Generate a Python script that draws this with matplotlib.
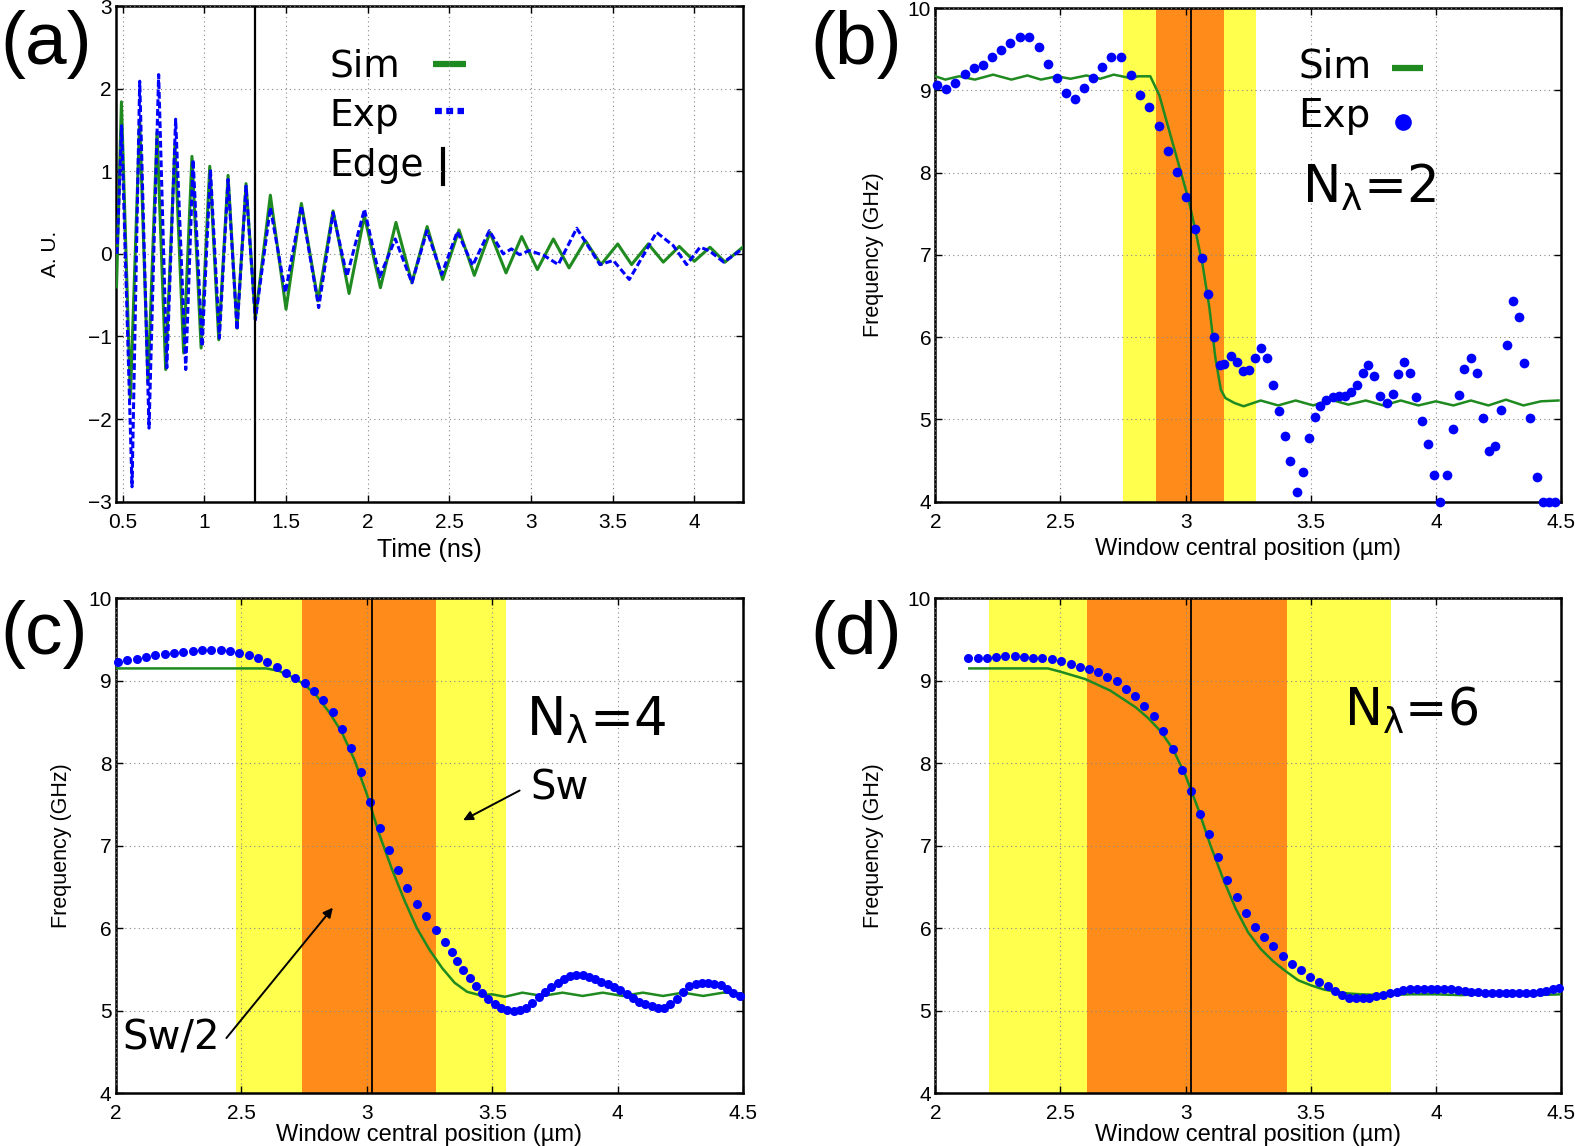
import matplotlib
matplotlib.use("Agg")
import matplotlib.pyplot as plt
from matplotlib.ticker import FuncFormatter

plt.rcParams["font.family"] = ["Liberation Sans", "DejaVu Sans"]
plt.rcParams["mathtext.fontset"] = "dejavusans"

# ---------------- data ----------------
# (a) time traces: extrema of the simulated / measured signals
sim_a_t = [0.462, 0.492, 0.547, 0.604, 0.655, 0.710, 0.763, 0.820, 0.873, 0.924,
           0.980, 1.033, 1.088, 1.145, 1.200, 1.255, 1.312, 1.404, 1.500, 1.594,
           1.696, 1.788, 1.886, 1.980, 2.078, 2.173, 2.271, 2.364, 2.459, 2.559,
           2.653, 2.749, 2.847, 2.943, 3.039, 3.137, 3.233, 3.333, 3.429, 3.531,
           3.616, 3.718, 3.810, 3.908, 4.000, 4.096, 4.188, 4.296]
sim_a_v = [-0.40, 1.84, -1.75, 1.62, -1.56, 1.47, -1.40, 1.33, -1.20, 1.18,
           -1.14, 1.06, -1.04, 0.95, -0.90, 0.85, -0.78, 0.71, -0.67, 0.61,
           -0.57, 0.52, -0.48, 0.46, -0.41, 0.38, -0.35, 0.33, -0.31, 0.29,
           -0.26, 0.26, -0.23, 0.21, -0.19, 0.18, -0.17, 0.16, -0.13, 0.12,
           -0.13, 0.12, -0.10, 0.09, -0.09, 0.08, -0.10, 0.08]
exp_a_t = [0.465, 0.493, 0.557, 0.604, 0.661, 0.720, 0.770, 0.824, 0.886, 0.931,
           0.986, 1.037, 1.092, 1.145, 1.200, 1.255, 1.312, 1.404, 1.496, 1.594,
           1.700, 1.788, 1.873, 1.980, 2.073, 2.169, 2.271, 2.363, 2.453, 2.549,
           2.643, 2.745, 2.830, 2.880, 2.930, 2.990, 3.080, 3.167, 3.280, 3.422,
           3.504, 3.602, 3.769, 3.871, 3.953, 4.035, 4.090, 4.180, 4.296]
exp_a_v = [0.00, 1.55, -2.82, 2.09, -2.11, 2.17, -1.38, 1.63, -1.40, 1.14,
           -1.12, 1.02, -1.02, 0.90, -0.92, 0.82, -0.80, 0.56, -0.47, 0.58,
           -0.65, 0.50, -0.27, 0.54, -0.28, 0.18, -0.35, 0.28, -0.25, 0.27,
           -0.14, 0.28, 0.00, 0.06, -0.01, 0.04, -0.02, -0.13, 0.31, -0.13,
           -0.08, -0.31, 0.26, 0.10, -0.13, 0.08, 0.04, -0.10, 0.06]
edge_a = 1.312

# (b) N_lambda = 2
sim_b_x = [2.000, 2.040, 2.095, 2.158, 2.231, 2.304, 2.368, 2.422, 2.486, 2.540,
           2.604, 2.659, 2.713, 2.777, 2.813, 2.859, 2.895, 2.941, 2.977, 3.013,
           3.041, 3.068, 3.095, 3.119, 3.141, 3.159, 3.195, 3.232, 3.300, 3.370,
           3.440, 3.510, 3.580, 3.650, 3.720, 3.790, 3.860, 3.930, 4.000, 4.070,
           4.140, 4.210, 4.280, 4.350, 4.420, 4.490]
sim_b_y = [9.17, 9.13, 9.17, 9.13, 9.19, 9.13, 9.18, 9.13, 9.17, 9.14,
           9.18, 9.14, 9.19, 9.15, 9.17, 9.17, 8.94, 8.44, 8.05, 7.66,
           7.27, 6.88, 6.36, 5.75, 5.36, 5.26, 5.20, 5.16, 5.23, 5.17,
           5.23, 5.17, 5.24, 5.18, 5.23, 5.17, 5.23, 5.17, 5.22, 5.17,
           5.23, 5.17, 5.24, 5.17, 5.22, 5.23]
exp_b_x = [2.007, 2.044, 2.080, 2.118, 2.155, 2.191, 2.227, 2.264, 2.300, 2.337,
           2.373, 2.413, 2.449, 2.486, 2.522, 2.559, 2.595, 2.631, 2.668, 2.704,
           2.741, 2.781, 2.817, 2.853, 2.893, 2.930, 2.966, 3.003, 3.039, 3.064,
           3.088, 3.112, 3.137, 3.155, 3.181, 3.206, 3.228, 3.254, 3.279, 3.303,
           3.326, 3.348, 3.372, 3.396, 3.419, 3.445, 3.468, 3.492, 3.516, 3.539,
           3.563, 3.588, 3.612, 3.636, 3.659, 3.683, 3.707, 3.730, 3.754, 3.778,
           3.803, 3.827, 3.850, 3.874, 3.898, 3.921, 3.945, 3.969, 3.994, 4.018,
           4.043, 4.067, 4.091, 4.114, 4.140, 4.163, 4.187, 4.211, 4.236, 4.260,
           4.283, 4.307, 4.331, 4.354, 4.378, 4.404, 4.427, 4.451, 4.475]
exp_b_y = [9.06, 9.02, 9.09, 9.20, 9.27, 9.31, 9.41, 9.49, 9.58, 9.65,
           9.65, 9.52, 9.32, 9.15, 8.97, 8.90, 9.03, 9.15, 9.28, 9.41,
           9.40, 9.18, 8.94, 8.80, 8.57, 8.26, 8.01, 7.70, 7.31, 6.96,
           6.53, 6.00, 5.66, 5.67, 5.77, 5.70, 5.59, 5.60, 5.75, 5.87,
           5.75, 5.42, 5.10, 4.80, 4.49, 4.12, 4.36, 4.78, 5.03, 5.16,
           5.24, 5.27, 5.29, 5.29, 5.33, 5.42, 5.57, 5.66, 5.53, 5.28,
           5.20, 5.31, 5.55, 5.70, 5.57, 5.27, 4.98, 4.70, 4.33, 4.00,
           4.32, 4.88, 5.30, 5.61, 5.75, 5.57, 5.02, 4.62, 4.68, 5.12,
           5.90, 6.44, 6.25, 5.68, 5.02, 4.30, 4.00, 4.00, 4.00]
sw_b = (2.750, 3.281)
sw2_b = (2.882, 3.154)

# (c) N_lambda = 4
sim_c_x = [2.00, 2.60, 2.65, 2.70, 2.75, 2.80, 2.85, 2.90, 2.95, 3.00,
           3.05, 3.10, 3.15, 3.20, 3.25, 3.30, 3.35, 3.40, 3.45, 3.50,
           3.55, 3.62, 3.70, 3.78, 3.86, 3.94, 4.02, 4.10, 4.18, 4.26,
           4.34, 4.42, 4.50]
sim_c_y = [9.15, 9.15, 9.12, 9.05, 8.96, 8.82, 8.62, 8.38, 8.05, 7.63,
           7.14, 6.72, 6.34, 6.00, 5.74, 5.52, 5.34, 5.23, 5.19, 5.20,
           5.17, 5.22, 5.18, 5.22, 5.18, 5.22, 5.18, 5.22, 5.18, 5.22,
           5.18, 5.22, 5.21]
exp_c_x = [2.009, 2.046, 2.083, 2.121, 2.158, 2.195, 2.232, 2.269, 2.307, 2.344,
           2.381, 2.418, 2.455, 2.493, 2.530, 2.567, 2.604, 2.641, 2.679, 2.716,
           2.753, 2.790, 2.827, 2.865, 2.902, 2.939, 2.976, 3.013, 3.051, 3.088,
           3.125, 3.162, 3.199, 3.237, 3.274, 3.311, 3.338, 3.360, 3.385, 3.410,
           3.435, 3.460, 3.485, 3.510, 3.535, 3.560, 3.585, 3.610, 3.635, 3.660,
           3.685, 3.710, 3.735, 3.760, 3.785, 3.810, 3.835, 3.860, 3.885, 3.910,
           3.935, 3.960, 3.985, 4.010, 4.035, 4.060, 4.085, 4.110, 4.135, 4.160,
           4.185, 4.210, 4.235, 4.260, 4.285, 4.310, 4.335, 4.360, 4.385, 4.410,
           4.435, 4.460, 4.485]
exp_c_y = [9.23, 9.25, 9.27, 9.29, 9.31, 9.32, 9.34, 9.35, 9.36, 9.37,
           9.37, 9.37, 9.36, 9.34, 9.31, 9.28, 9.23, 9.17, 9.10, 9.04,
           8.97, 8.88, 8.77, 8.62, 8.42, 8.18, 7.90, 7.53, 7.21, 6.95,
           6.71, 6.49, 6.30, 6.15, 5.98, 5.84, 5.71, 5.60, 5.49, 5.40,
           5.30, 5.22, 5.14, 5.08, 5.04, 5.01, 5.00, 5.01, 5.04, 5.10,
           5.17, 5.23, 5.29, 5.34, 5.38, 5.42, 5.44, 5.43, 5.41, 5.38,
           5.35, 5.32, 5.29, 5.25, 5.20, 5.15, 5.11, 5.08, 5.06, 5.04,
           5.04, 5.08, 5.14, 5.23, 5.30, 5.33, 5.34, 5.34, 5.33, 5.31,
           5.27, 5.22, 5.18]
sw_c = (2.481, 3.554)
sw2_c = (2.744, 3.275)

# (d) N_lambda = 6
sim_d_x = [2.136, 2.45, 2.50, 2.60, 2.70, 2.80, 2.85, 2.90, 2.95, 3.00,
           3.05, 3.10, 3.15, 3.20, 3.25, 3.30, 3.35, 3.40, 3.45, 3.50,
           3.55, 3.60, 3.65, 3.70, 3.80, 3.90, 4.00, 4.10, 4.20, 4.30,
           4.40, 4.50]
sim_d_y = [9.15, 9.15, 9.11, 9.02, 8.88, 8.68, 8.55, 8.39, 8.17, 7.85,
           7.45, 7.00, 6.60, 6.24, 5.95, 5.75, 5.60, 5.48, 5.37, 5.31,
           5.26, 5.23, 5.21, 5.20, 5.19, 5.20, 5.20, 5.19, 5.20, 5.20,
           5.19, 5.20]
exp_d_x = [2.131, 2.169, 2.205, 2.243, 2.280, 2.318, 2.354, 2.392, 2.428, 2.467,
           2.503, 2.541, 2.577, 2.614, 2.652, 2.688, 2.726, 2.762, 2.799, 2.835,
           2.873, 2.910, 2.948, 2.984, 3.020, 3.057, 3.093, 3.131, 3.167, 3.204,
           3.242, 3.278, 3.314, 3.351, 3.389, 3.425, 3.462, 3.498, 3.534, 3.569,
           3.598, 3.625, 3.652, 3.679, 3.707, 3.734, 3.761, 3.788, 3.816, 3.843,
           3.870, 3.897, 3.924, 3.952, 3.979, 4.006, 4.033, 4.060, 4.088, 4.115,
           4.142, 4.170, 4.197, 4.224, 4.251, 4.279, 4.306, 4.333, 4.360, 4.387,
           4.415, 4.442, 4.469, 4.491]
exp_d_y = [9.28, 9.28, 9.28, 9.29, 9.30, 9.30, 9.29, 9.28, 9.28, 9.26,
           9.24, 9.20, 9.17, 9.14, 9.11, 9.05, 9.00, 8.90, 8.82, 8.69,
           8.57, 8.39, 8.17, 7.92, 7.66, 7.39, 7.14, 6.86, 6.59, 6.38,
           6.19, 6.01, 5.89, 5.78, 5.66, 5.57, 5.49, 5.41, 5.35, 5.30,
           5.24, 5.19, 5.16, 5.15, 5.15, 5.16, 5.18, 5.19, 5.22, 5.23,
           5.25, 5.26, 5.27, 5.27, 5.27, 5.27, 5.27, 5.26, 5.25, 5.24,
           5.23, 5.23, 5.22, 5.22, 5.22, 5.22, 5.22, 5.22, 5.22, 5.22,
           5.23, 5.24, 5.26, 5.28]
sw_d = (2.214, 3.819)
sw2_d = (2.606, 3.405)

edge_x = 3.02

# ---------------- styling ----------------
GREEN = "#1f8a1f"
BLUE = "#0000ff"
YELLOW = "#ffff4d"
ORANGE = "#ff8c1a"
BIG = "DejaVu Sans"

W, H = 1575, 1146
fig = plt.figure(figsize=(W / 100, H / 100), dpi=100)


def box(l, r, t, b):
    return fig.add_axes([l / W, 1 - b / H, (r - l) / W, (b - t) / H])


def fmt(v, _):
    return f"{v:g}".replace("-", "\u2212")


def style(ax, xlim, ylim, xticks, yticks):
    ax.set_xlim(*xlim)
    ax.set_ylim(*ylim)
    ax.set_xticks(xticks)
    ax.set_yticks(yticks)
    ax.xaxis.set_major_formatter(FuncFormatter(fmt))
    ax.yaxis.set_major_formatter(FuncFormatter(fmt))
    ax.tick_params(direction="in", length=5, width=1, top=True, right=True,
                   labelsize=15)
    ax.tick_params(axis="x", pad=8)
    ax.tick_params(axis="y", pad=3)
    ax.grid(True, linestyle=(0, (1, 3)), color="#888888", linewidth=0.8)
    ax.set_axisbelow(False)
    for s in ax.spines.values():
        s.set_linewidth(1.8)


ax_a = box(115.7, 743.3, 6, 501.7)
ax_b = box(935.3, 1561, 8, 501.7)
ax_c = box(115.7, 743.3, 598.3, 1093.3)
ax_d = box(935.3, 1561, 598.3, 1093.3)

# ---- (a) ----
style(ax_a, (0.457, 4.30), (-3, 3), [0.5, 1, 1.5, 2, 2.5, 3, 3.5, 4],
      [-3, -2, -1, 0, 1, 2, 3])
ax_a.plot(sim_a_t, sim_a_v, color=GREEN, lw=2.2, zorder=3)
ax_a.plot(exp_a_t, exp_a_v, color=BLUE, lw=2.2, ls=(0, (2.2, 1.0)), zorder=4)
ax_a.axvline(edge_a, color="k", lw=1.6, zorder=5)
ax_a.set_xlabel("Time (ns)", fontsize=18)
ax_a.set_ylabel("A. U.", fontsize=15)
ax_a.yaxis.set_label_coords(-0.089, 0.5)
ax_a.xaxis.set_label_coords(0.5, -0.073)

# legend of (a), MATLAB-like: label then sample
for txt, yb in [("Sim", 2.15), ("Exp", 1.545), ("Edge", 0.94)]:
    ax_a.text(1.767, yb, txt, family=BIG, fontsize=27, va="baseline", ha="left")
ax_a.plot([2.40, 2.60], [2.30, 2.30], color=GREEN, lw=4.5, solid_capstyle="butt")
ax_a.plot([2.41, 2.59], [1.73, 1.73], color=BLUE, lw=4.5, ls=(0, (1.1, 0.7)))
ax_a.plot([2.46, 2.46], [0.85, 1.27], color="k", lw=3)

# ---- (b), (c), (d) ----
panels = [
    (ax_b, sim_b_x, sim_b_y, exp_b_x, exp_b_y, sw_b, sw2_b, 7.0, -0.073),
    (ax_c, sim_c_x, sim_c_y, exp_c_x, exp_c_y, sw_c, sw2_c, 6.5, -0.063),
    (ax_d, sim_d_x, sim_d_y, exp_d_x, exp_d_y, sw_d, sw2_d, 6.5, -0.063),
]
for ax, sx, sy, ex, ey, sw, sw2, ms, ly in panels:
    style(ax, (2, 4.5), (4, 10), [2, 2.5, 3, 3.5, 4, 4.5], [4, 5, 6, 7, 8, 9, 10])
    ax.axvspan(*sw, color=YELLOW, lw=0, zorder=1)
    ax.axvspan(*sw2, color=ORANGE, lw=0, zorder=1.1)
    ax.axvline(edge_x, color="k", lw=1.3, zorder=5)
    ax.plot(sx, sy, color=GREEN, lw=1.8, zorder=3)
    ax.plot(ex, ey, "o", color=BLUE, ms=ms, mec="none", zorder=4, clip_on=False)
    ax.set_xlabel("Window central position (\u00b5m)", fontsize=17)
    ax.set_ylabel("Frequency (GHz)", fontsize=15.5)
    ax.xaxis.set_label_coords(0.5, ly)

ax_b.yaxis.set_label_coords(-0.082, 0.5)
ax_c.yaxis.set_label_coords(-0.070, 0.5)
ax_d.yaxis.set_label_coords(-0.082, 0.5)

# legend of (b)
ax_b.text(3.45, 9.16, "Sim", family=BIG, fontsize=28, va="baseline")
ax_b.text(3.45, 8.55, "Exp", family=BIG, fontsize=28, va="baseline")
ax_b.plot([3.823, 3.95], [9.27, 9.27], color=GREEN, lw=4.5, solid_capstyle="butt")
ax_b.plot([3.869], [8.62], "o", color=BLUE, ms=12, mec="none")

nl = r"N$_{\mathrm{\lambda}}$="
ax_b.text(3.465, 7.63, nl + "2", family=BIG, fontsize=37, va="baseline")
ax_c.text(3.635, 8.34, nl + "4", family=BIG, fontsize=38, va="baseline")
ax_d.text(3.634, 8.46, nl + "6", family=BIG, fontsize=36.5, va="baseline")

# annotations in (c)
arrow = dict(arrowstyle="-|>", color="k", lw=1.4, mutation_scale=14,
             shrinkA=0, shrinkB=0)
ax_c.annotate("", xy=(3.384, 7.31), xytext=(3.609, 7.67), arrowprops=arrow)
ax_c.text(3.65, 7.69, "Sw", family=BIG, fontsize=29, va="center", ha="left")
ax_c.annotate("", xy=(2.865, 6.25), xytext=(2.441, 4.67), arrowprops=arrow)
ax_c.text(2.415, 4.67, "Sw/2", family=BIG, fontsize=29, va="center", ha="right")

# panel letters
for x, y, s in [(0, 10, "(a)"), (810, 10, "(b)"), (0, 600, "(c)"), (810, 600, "(d)")]:
    fig.text(x / W, 1 - y / H, s, family="Liberation Sans", fontsize=54,
             va="top", ha="left")

fig.savefig("out.png", dpi=100, facecolor="white")
